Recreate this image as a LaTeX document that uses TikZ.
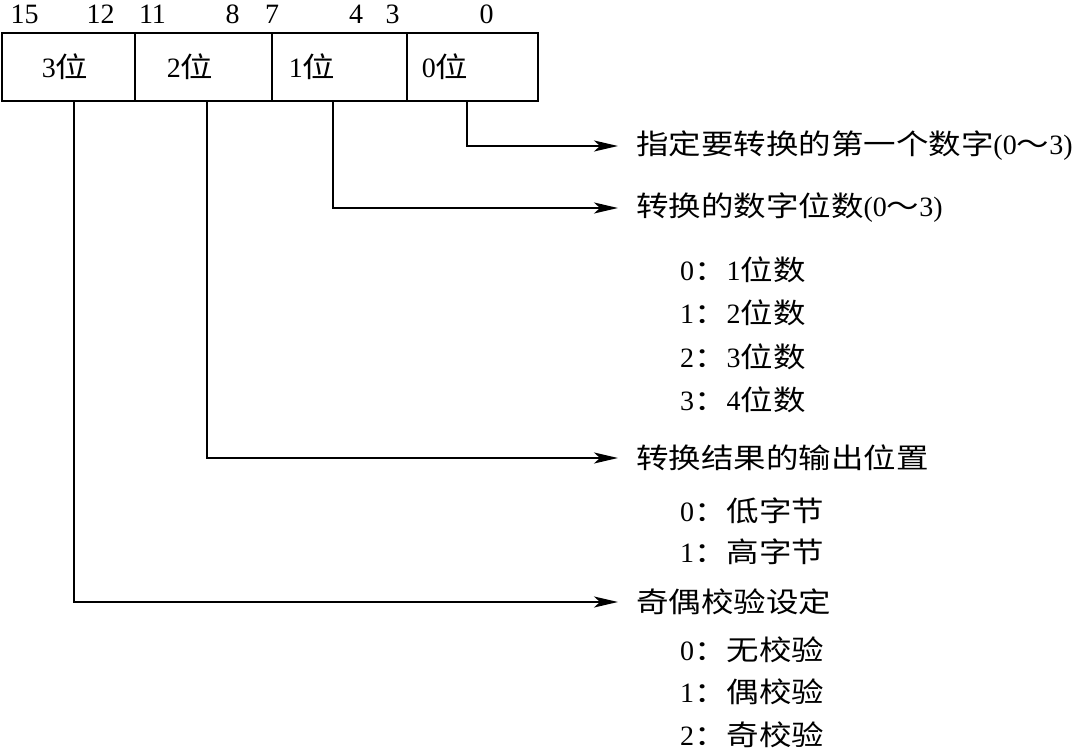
\documentclass[tikz,border=0pt]{standalone}
\usepackage{fontspec}
\setmainfont{Liberation Serif}
\newfontfamily\cjkfont[Scale=1.0,FakeStretch=1.16]{Noto Sans CJK SC}
\newcommand{\zh}[1]{{\cjkfont #1}}
\usetikzlibrary{arrows.meta}

\begin{document}
\begin{tikzpicture}[x=1pt, y=-1pt, font=\fontsize{28}{32}\selectfont,
    cell/.style={draw, line width=2.4pt, minimum height=68pt, inner sep=0pt},
    bitnum/.style={inner sep=0pt},
    head/.style={anchor=west, inner xsep=18pt, inner ysep=0pt},
    item/.style={anchor=west, inner sep=0pt},
    conn/.style={line width=2pt, -{Stealth[length=24pt, width=11pt, inset=6pt]}}]
        \useasboundingbox (0,0) rectangle (1082,751);
        % register cells
        \node[cell, minimum width=133pt] (b3) at (68.5,67) {};
        \node[cell, minimum width=137pt] (b2) at (203.5,67) {};
        \node[cell, minimum width=135pt] (b1) at (339.5,67) {};
        \node[cell, minimum width=131pt] (b0) at (472.5,67) {};
        \node (l3) at (65,67) {3\zh{位}};
        \node (l2) at (190,67) {2\zh{位}};
        \node (l1) at (312,67) {1\zh{位}};
        \node (l0) at (445,67) {0\zh{位}};
        % bit numbers
        \node[bitnum] (n15) at (24.5,14) {15};
        \node[bitnum] (n12) at (100.5,14) {12};
        \node[bitnum] (n11) at (152.5,14) {11};
        \node[bitnum] (n8) at (232.5,14) {8};
        \node[bitnum] (n7) at (272,14) {7};
        \node[bitnum] (n4) at (356,14) {4};
        \node[bitnum] (n3) at (392.5,14) {3};
        \node[bitnum] (n0) at (486.5,14) {0};
        % descriptions
        \node[head] (h0) at (618,146) {\zh{指定要转换的第一个数字}(0\zh{～}3)};
        \node[head] (h1) at (618,208) {\zh{转换的数字位数}(0\zh{～}3)};
        \node[item] (h1a) at (680,270) {0\zh{：}1\zh{位数}};
        \node[item] (h1b) at (680,313) {1\zh{：}2\zh{位数}};
        \node[item] (h1c) at (680,357) {2\zh{：}3\zh{位数}};
        \node[item] (h1d) at (680,400) {3\zh{：}4\zh{位数}};
        \node[head] (h2) at (618,458) {\zh{转换结果的输出位置}};
        \node[item] (h2a) at (680,511) {0\zh{：低字节}};
        \node[item] (h2b) at (680,552) {1\zh{：高字节}};
        \node[head] (h3) at (618,602) {\zh{奇偶校验设定}};
        \node[item] (h3a) at (680,650) {0\zh{：无校验}};
        \node[item] (h3b) at (680,692) {1\zh{：偶校验}};
        \node[item] (h3c) at (680,735) {2\zh{：奇校验}};
        % connectors
        \draw[conn] ([xshift=-5.5pt]b0.south) |- (h0.west);
        \draw[conn] ([xshift=-6.5pt]b1.south) |- (h1.west);
        \draw[conn] ([xshift=3.5pt]b2.south) |- (h2.west);
        \draw[conn] ([xshift=5.5pt]b3.south) |- (h3.west);
    \end{tikzpicture}
\end{document}
